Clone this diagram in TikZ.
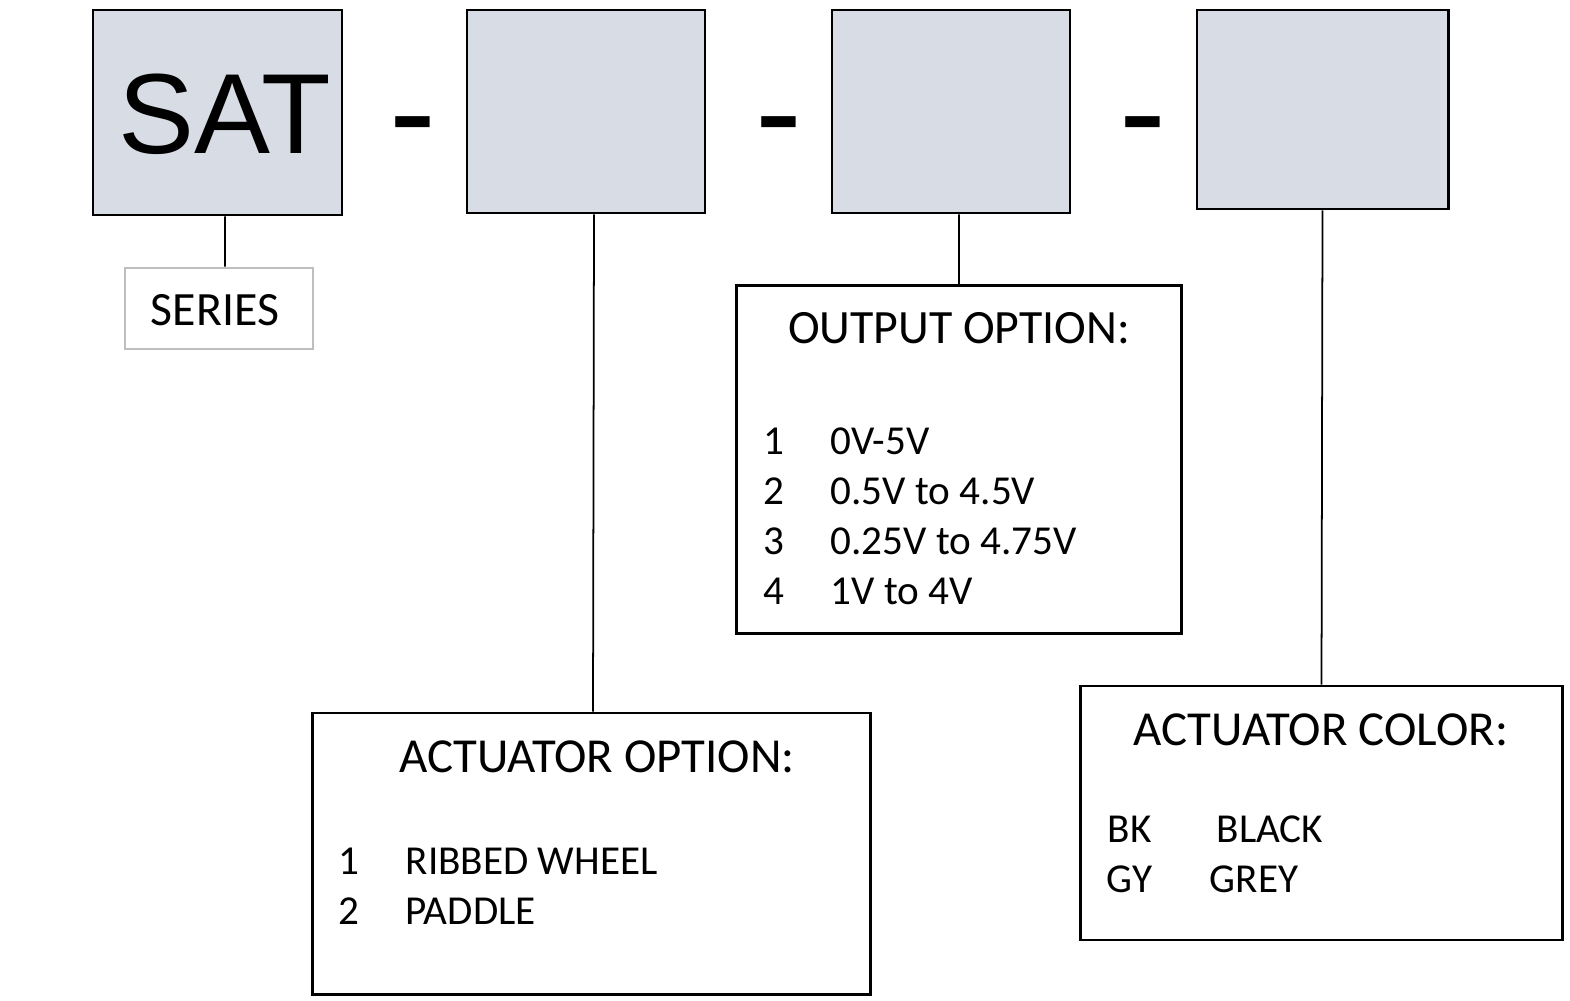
\documentclass[tikz,border=0pt]{standalone}
\usepackage{fontspec}
\setmainfont{Carlito}
\newfontfamily\arialfont{Liberation Sans}
\definecolor{boxfill}{RGB}{216,220,228}
\definecolor{seriesgray}{RGB}{190,190,190}
\begin{document}
\begin{tikzpicture}[
  x=0.01cm, y=-0.01cm,
  codebox/.style={draw, line width=0.8pt, fill=boxfill, inner sep=0pt},
  optbox/.style={draw, line width=0.8pt, inner sep=0pt},
  title/.style={anchor=base, inner sep=0pt, font=\fontsize{13.9}{16}\selectfont},
  item/.style={anchor=base west, inner sep=0pt, font=\fontsize{11.7}{14}\selectfont},
  sep/.style={anchor=base, inner sep=0pt, font=\arialfont\fontsize{40}{44}\selectfont},
  link/.style={line width=0.5pt}
]
\useasboundingbox (0,0) rectangle (1570,1000);
\node[codebox, minimum width=2.49cm, minimum height=2.05cm] (sat) at (217.5,112.5) {};
\node[codebox, minimum width=2.38cm, minimum height=2.03cm] (act) at (586,111.5) {};
\node[codebox, minimum width=2.38cm, minimum height=2.03cm] (out) at (951,111.5) {};
\node[codebox, minimum width=2.51cm, minimum height=1.99cm] (col) at (1322.5,109.5) {};
\node[anchor=base, inner sep=0pt, font=\arialfont\fontsize{32.4}{36}\selectfont] (sattext) at (225,153) {SAT};
\node[sep] (dash1) at (413,159) {-};
\node[sep] (dash2) at (779,159) {-};
\node[sep] (dash3) at (1143,159) {-};
\node[draw=seriesgray, line width=0.8pt, minimum width=1.88cm, minimum height=0.81cm, inner sep=0pt] (series) at (219,308.5) {};
\node[anchor=base, inner sep=0pt, font=\fontsize{13.6}{16}\selectfont] (seriestext) at (215,325) {SERIES};
\node[optbox, minimum width=4.44cm, minimum height=3.47cm] (outbox) at (959,459.5) {};
\node[optbox, minimum width=5.57cm, minimum height=2.81cm] (actbox) at (591.5,853.5) {};
\node[optbox, minimum width=4.81cm, minimum height=2.54cm] (colbox) at (1321.5,813) {};
\node[title, font=\fontsize{13.6}{16}\selectfont] (outtitle) at (959,343) {OUTPUT OPTION:};
\node[item] (out1) at (763,454) {1};
\node[item] (out1v) at (830,454) {0V-5V};
\node[item] (out2) at (763,504) {2};
\node[item] (out2v) at (830,504) {0.5V to 4.5V};
\node[item] (out3) at (763,554) {3};
\node[item] (out3v) at (830,554) {0.25V to 4.75V};
\node[item] (out4) at (763,604) {4};
\node[item] (out4v) at (830,604) {1V to 4V};
\node[title] (acttitle) at (597,772) {ACTUATOR OPTION:};
\node[item] (act1) at (338,874) {1};
\node[item] (act1v) at (405,874) {RIBBED WHEEL};
\node[item] (act2) at (338,924) {2};
\node[item] (act2v) at (405,924) {PADDLE};
\node[title] (coltitle) at (1321,745) {ACTUATOR COLOR:};
\node[item] (col1) at (1107,842) {BK};
\node[item] (col1v) at (1216,842) {BLACK};
\node[item] (col2) at (1106,892) {GY};
\node[item] (col2v) at (1209,892) {GREY};
\draw[link] ([xshift=0.075cm]sat.south) -- ([xshift=0.06cm]series.north);
\draw[link] ([xshift=0.08cm]act.south) -- ([xshift=0.015cm]actbox.north);
\draw[link] ([xshift=0.08cm]out.south) -- (outbox.north);
\draw[link] (col.south) -- (colbox.north);
\end{tikzpicture}
\end{document}
